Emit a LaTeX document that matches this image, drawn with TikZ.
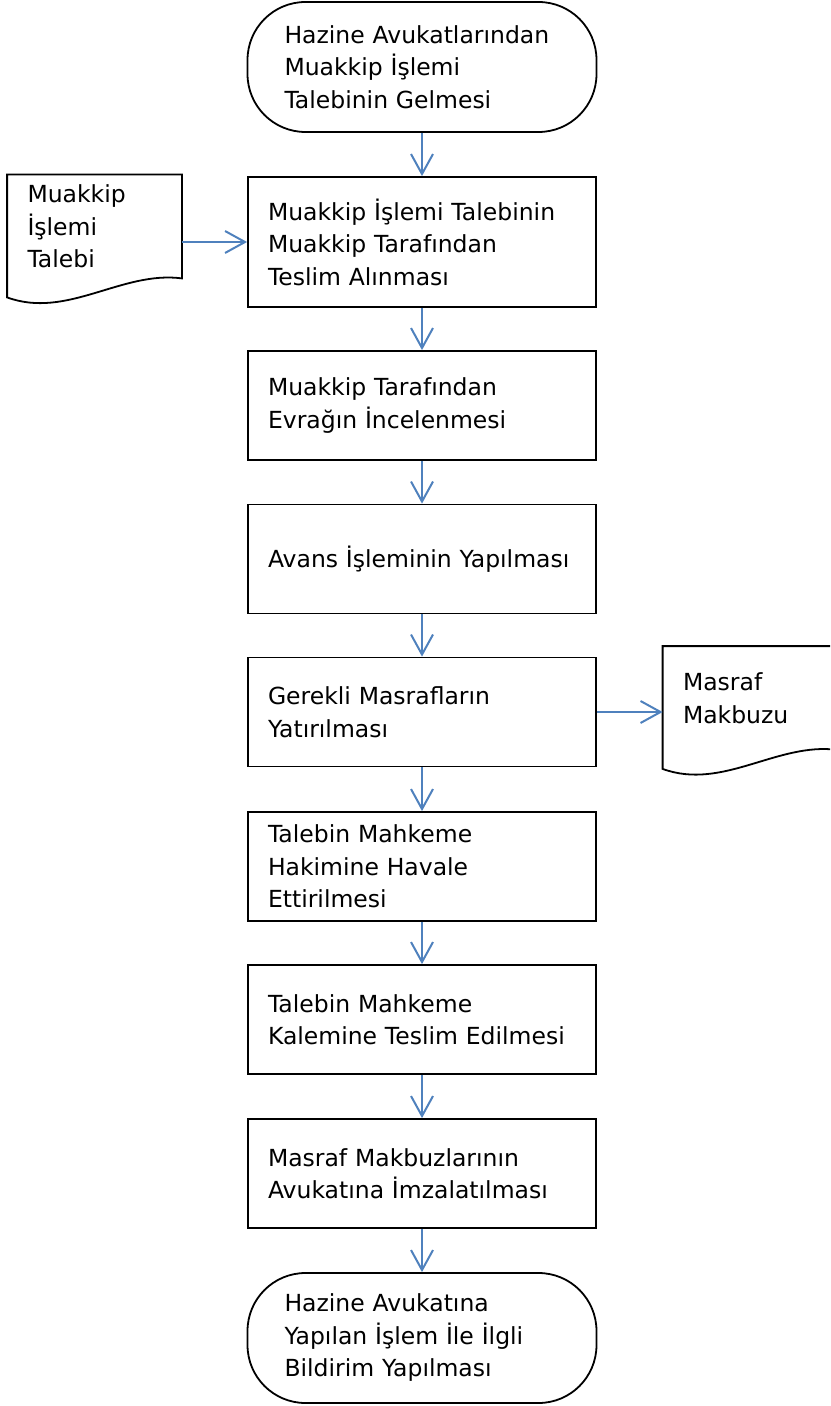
\documentclass[tikz,border=0pt]{standalone}
\usepackage{fontspec}
\setmainfont{DejaVu Sans}
\usepackage{tikz}
\usetikzlibrary{arrows.meta}
\definecolor{flowblue}{HTML}{4F81BD}
\tikzset{
  base/.style={font=\fontsize{11.75pt}{16.25pt}\selectfont, align=left, inner ysep=2pt},
  stepbox/.style={base, draw=black, line width=0.9pt, minimum width=174pt, minimum height=54.5pt, text width=154pt, inner xsep=10pt},
  termbox/.style={base, draw=black, line width=0.9pt, rounded corners=29pt, minimum width=174.5pt, minimum height=65pt, text width=137.5pt, inner xsep=18.5pt},
  docbox/.style={base, minimum width=87pt, minimum height=51.5pt, text width=67pt, inner xsep=10pt},
  docline/.style={draw=black, line width=0.9pt},
  flow/.style={draw=flowblue, line width=1pt, -{Straight Barb[length=10pt, width=11pt]}},
}

\begin{document}
\begin{tikzpicture}[x=0.5pt, y=-0.5pt]
  \useasboundingbox (0,0) rectangle (830,1406);
  \clip (0,0) rectangle (830,1406);

  \node[termbox] (start) at (422,67) {Hazine Avukatlarından\\Muakkip İşlemi\\Talebinin Gelmesi};
  \node[stepbox, minimum height=65pt] (recv) at (422,242) {Muakkip İşlemi Talebinin\\Muakkip Tarafından\\Teslim Alınması};
  \node[stepbox] (check) at (422,405.5) {Muakkip Tarafından\\Evrağın İncelenmesi};
  \node[stepbox] (advance) at (422,559) {Avans İşleminin Yapılması};
  \node[stepbox] (pay) at (422,712) {Gerekli Masrafların\\Yatırılması};
  \node[stepbox] (refer) at (422,866.5) {Talebin Mahkeme\\Hakimine Havale\\Ettirilmesi};
  \node[stepbox] (deliver) at (422,1019.5) {Talebin Mahkeme\\Kalemine Teslim Edilmesi};
  \node[stepbox] (sign) at (422,1173.5) {Masraf Makbuzlarının\\Avukatına İmzalatılması};
  \node[termbox] (notify) at (422,1338) {Hazine Avukatına\\Yapılan İşlem İle İlgli\\Bildirim Yapılması};

  \node[docbox] (req) at (94.5,226.5) {Muakkip\\İşlemi\\Talebi};
  \node[docbox] (receipt) at (750,698) {Masraf\\Makbuzu};

  % document outlines with wavy bottom
  \foreach \d in {req,receipt}
    \draw[docline] (\d.north west) -- (\d.north east) -- (\d.south east)
      .. controls +(-60,-8) and +(60,22) .. ([yshift=-9.5pt]\d.south west) -- cycle;

  \draw[flow] (start) -- (recv);
  \draw[flow] (recv) -- (check);
  \draw[flow] (check) -- (advance);
  \draw[flow] (advance) -- (pay);
  \draw[flow] (pay) -- (refer);
  \draw[flow] (refer) -- (deliver);
  \draw[flow] (deliver) -- (sign);
  \draw[flow] (sign) -- (notify);
  \draw[flow] (req.east |- recv.west) -- (recv.west);
  \draw[flow] (pay.east) -- (pay.east -| receipt.west);
\end{tikzpicture}
\end{document}
